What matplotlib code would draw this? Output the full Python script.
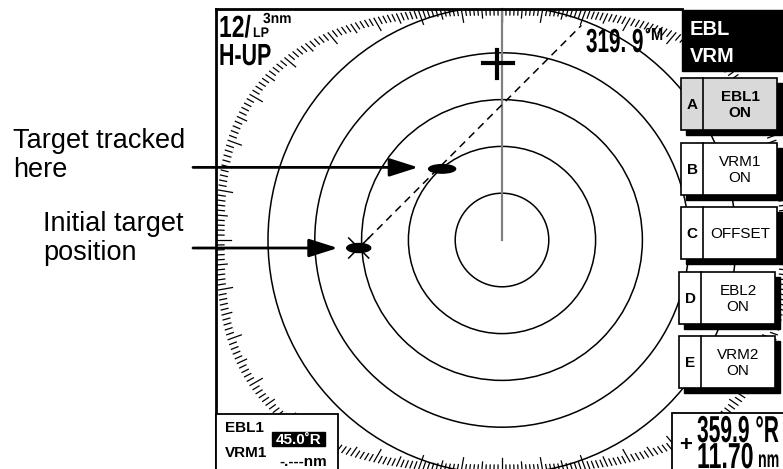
import numpy as np
import matplotlib
matplotlib.use("Agg")
import matplotlib.pyplot as plt
from matplotlib.patches import Rectangle, Ellipse
from matplotlib.patheffects import AbstractPathEffect
from matplotlib.transforms import Affine2D, Bbox
from matplotlib.text import Text

# ---------------- data ----------------
range_scale = "12/"
pulse = "LP"
ring_interval = "3nm"
mode = "H-UP"
ring_ranges_nm = [3, 6, 9, 12, 15]
px_per_nm = 15.6
ebl_bearing_deg = 45.0
target_initial = (9.2, 266.8)    # (range nm, bearing deg)
target_tracked = (5.96, 319.9)
cursor_bearing_text = "319. 9"
menu_title = ["EBL", "VRM"]
menu_keys = ["A", "B", "C", "D", "E"]
menu_items = ["EBL1\nON", "VRM1\nON", "OFFSET", "EBL2\nON", "VRM2\nON"]
ann_tracked = "Target tracked\nhere"
ann_initial = "Initial target\nposition"
ebl_readout = "45.0˚R"
vrm_readout = "-.---nm"
cursor_brg = "359.9 °R"
cursor_rng = "11.70"

# ---------------- fonts ----------------
SANS = ["Liberation Sans", "DejaVu Sans"]


class Condense(AbstractPathEffect):
    """Draw text glyphs horizontally compressed (condensed face look)."""
    def __init__(self, sx):
        super().__init__()
        self.sx = sx

    def draw_path(self, renderer, gc, tpath, affine, rgbFace=None):
        renderer.draw_path(gc, tpath, Affine2D().scale(self.sx, 1.0) + affine, rgbFace)


class CondensedText(Text):
    """Left-aligned text drawn condensed; its extent reports the condensed width."""
    def __init__(self, *args, sx=1.0, **kwargs):
        super().__init__(*args, **kwargs)
        self._sx = sx
        self.set_path_effects([Condense(sx)])

    def get_window_extent(self, renderer=None, dpi=None):
        bb = super().get_window_extent(renderer, dpi)
        return Bbox.from_bounds(bb.x0, bb.y0, bb.width * self._sx, bb.height)


def ctext(x, y, s, size, sx, **kw):
    t = CondensedText(x, y, s, sx=sx, fontsize=size, fontweight="bold", family=SANS,
                      va="baseline", ha="left", zorder=7, **kw)
    ax.add_artist(t)
    return t

# ---------------- layout ----------------
W, H = 783, 469
cx, cy = 502, 240

fig = plt.figure(figsize=(W / 100, H / 100), dpi=100)
ax = fig.add_axes([0, 0, 1, 1])
ax.set_xlim(0, W)
ax.set_ylim(H, 0)
ax.axis("off")

def polar(r_px, brg):
    t = np.deg2rad(brg)
    return cx + r_px * np.sin(t), cy - r_px * np.cos(t)

frame_clip = Rectangle((217, 10), W, H, transform=ax.transData, visible=False)
ax.add_patch(frame_clip)

# range rings
for rr in ring_ranges_nm:
    c = plt.Circle((cx, cy), rr * px_per_nm, fill=False, lw=1.1, color="black", zorder=2)
    ax.add_patch(c)
    c.set_clip_path(frame_clip)

# bearing scale (rounded squarish)
a_s, b_s, n_s = 285, 232, 2.7
for deg in range(0, 360):
    t = np.deg2rad(deg)
    s, c = abs(np.sin(t)), abs(np.cos(t))
    r = 1.0 / ((s / a_s) ** n_s + (c / b_s) ** n_s) ** (1 / n_s)
    L = 14 if deg % 10 == 0 else (10 if deg % 5 == 0 else 7)
    x0, y0 = polar(r, deg)
    x1, y1 = polar(r - L, deg)
    ln, = ax.plot([x0, x1], [y0, y1], color="black", lw=0.9, zorder=2)
    ln.set_clip_path(frame_clip)

# heading line
hx, hy = polar(cy - 9, 0)
ax.plot([cx, hx], [cy, hy], color="#808080", lw=1.6, zorder=2)

# frame
ax.plot([216, 216], [H, 9], color="black", lw=2, zorder=6)
ax.plot([216, 682], [9, 9], color="black", lw=2, zorder=6)

# targets
ix, iy = polar(target_initial[0] * px_per_nm, target_initial[1])
tx, ty = polar(target_tracked[0] * px_per_nm, target_tracked[1])
ax.add_patch(Ellipse((tx, ty), 27, 8.5, color="black", zorder=4))
ax.add_patch(Ellipse((ix, iy), 24, 9, color="black", zorder=4))
ax.plot([ix - 10, ix + 10], [iy - 10, iy + 10], color="black", lw=1.1, zorder=4)
ax.plot([ix - 10, ix + 10], [iy + 10, iy - 10], color="black", lw=1.1, zorder=4)

# offset EBL (dashed)
t = np.deg2rad(ebl_bearing_deg)
L = 315
ax.plot([ix, ix + L * np.sin(t)], [iy, iy - L * np.cos(t)], color="black",
        lw=1.1, ls=(0, (5, 3.5)), zorder=3)

# cursor +
ax.plot([497, 497], [50, 78], color="black", lw=3, zorder=4)
ax.plot([483, 513], [63, 63], color="black", lw=3, zorder=4)

# top-left text
ctext(219, 37, range_scale, 22, 0.75)
ctext(253, 37, pulse, 10, 0.9)
ctext(263, 23, ring_interval, 10.5, 0.95)
ctext(219, 65, mode, 22, 0.70)

# cursor bearing readout
ctext(586, 52, cursor_bearing_text, 24, 0.62)
ctext(645, 40, "°M", 12.5, 0.85)

# menu title box
ax.add_patch(Rectangle((682, 10), 110, 61, color="black", zorder=6))
ax.text(690, 35, menu_title[0], fontsize=14.5, fontweight="bold", color="white", family=SANS, va="baseline", zorder=7)
ax.text(690, 62, menu_title[1], fontsize=14.5, fontweight="bold", color="white", family=SANS, va="baseline", zorder=7)

# menu buttons
tops = [78, 143, 207, 272, 336]
lefts = [681, 681, 681, 679, 679]
for i, (k, item) in enumerate(zip(menu_keys, menu_items)):
    x0, y0 = lefts[i], tops[i]
    w, h = 96, 52
    sel = i == 0
    ax.add_patch(Rectangle((x0 + 5, y0 + 5), w, h, color="black", zorder=6))
    ax.add_patch(Rectangle((x0, y0), w, h, facecolor="#d9d9d9" if sel else "white",
                           edgecolor="black", lw=1.2, zorder=6))
    ax.plot([x0 + 22, x0 + 22], [y0, y0 + h], color="black", lw=1.2, zorder=7)
    ax.text(x0 + 11, y0 + h / 2 + 1, k, fontsize=11, fontweight="bold", family=SANS,
            ha="center", va="center", zorder=8)
    ax.text(x0 + 22 + 37, y0 + h / 2 + 1, item, fontsize=11,
            fontweight="bold" if sel else "normal", family=SANS,
            ha="center", va="center", linespacing=1.2, zorder=8)

# annotations
ax.text(13, 177, ann_tracked, fontsize=19.5, family=SANS, va="baseline", linespacing=1.15, zorder=7)
ax.text(43, 260, ann_initial, fontsize=19.5, family=SANS, va="baseline", linespacing=1.15, zorder=7)
ax.annotate("", xy=(tx - 24, ty - 1.5), xytext=(193, ty - 1.5),
            arrowprops=dict(arrowstyle="-|>,head_length=1.1,head_width=0.35", lw=2, color="black",
                            shrinkA=0, shrinkB=0, mutation_scale=16), zorder=5)
ax.annotate("", xy=(ix - 21, iy), xytext=(193, iy),
            arrowprops=dict(arrowstyle="-|>,head_length=1.1,head_width=0.35", lw=2, color="black",
                            shrinkA=0, shrinkB=0, mutation_scale=16), zorder=5)

# bottom-left readout box
ax.add_patch(Rectangle((216, 414), 122, 60, facecolor="white", edgecolor="black", lw=1.3, zorder=6))
ax.text(225, 432, "EBL1", fontsize=11, fontweight="bold", family=SANS, va="baseline", zorder=7)
ax.text(225, 457, "VRM1", fontsize=11, fontweight="bold", family=SANS, va="baseline", zorder=7)
ax.add_patch(Rectangle((272, 432.5), 53, 13.5, color="black", zorder=7))
ax.text(298.5, 444.5, ebl_readout, fontsize=11, fontweight="bold", color="white", family=SANS,
        ha="center", va="baseline", zorder=8)
ax.text(327, 466, vrm_readout, fontsize=11, fontweight="bold", family=SANS, ha="right", va="baseline", zorder=7)

# bottom-right readout box
ax.add_patch(Rectangle((672, 413), 120, 60, facecolor="white", edgecolor="black", lw=1.3, zorder=6))
ax.text(686, 451, "+", fontsize=16, fontweight="bold", family=SANS, ha="center", va="baseline", zorder=7)
ctext(697, 442, cursor_brg, 27, 0.56)
ctext(697, 468, cursor_rng, 26, 0.64)
ctext(758, 467, "nm", 17, 0.6)

fig.savefig("out.png", dpi=100)
